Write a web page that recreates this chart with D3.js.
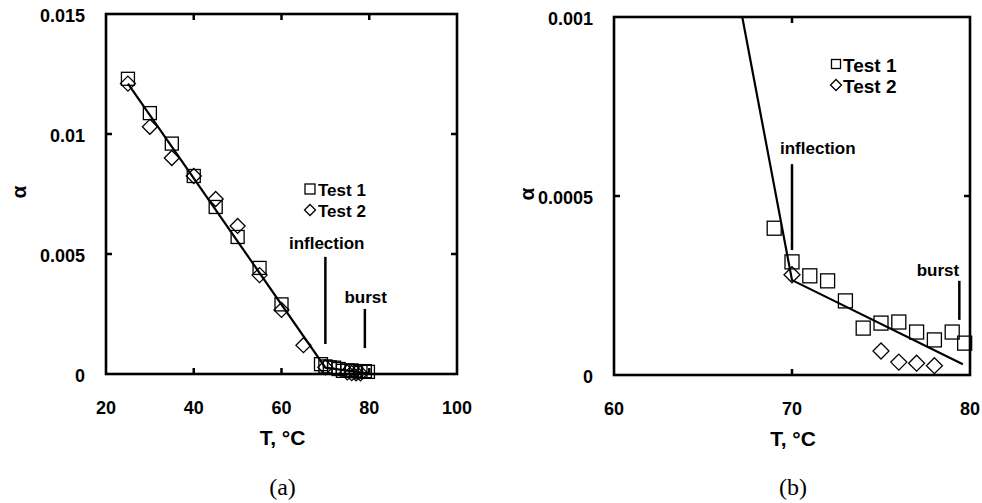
<!DOCTYPE html>
<html><head><meta charset="utf-8">
<script src="https://cdn.jsdelivr.net/npm/d3@7/dist/d3.min.js"></script>
<style>
body{margin:0;background:#fff;}
svg{display:block;}
text{font-family:"Liberation Sans",Arial,sans-serif;font-weight:bold;fill:#000;}
.cap{font-family:"Liberation Serif","Times New Roman",serif;font-weight:normal;}
</style></head>
<body>
<svg id="c" width="982" height="503"></svg>
<script>
// ---- data ----
const test1T = [25,30,35,40,45,50,55,60,69,70,71,72,73,74,75,76,77,78,79,79.7];
const test1Alpha = [0.0123,0.01087,0.0096,0.00825,0.00696,0.00571,0.00442,0.0029,0.00041,0.000316,0.000277,0.000263,0.000207,0.000131,0.000145,0.000148,0.00012,0.000098,0.00012,0.000089];
const test2T = [25,30,35,40,45,50,55,60,65,70,75,76,77,78];
const test2Alpha = [0.0121,0.0103,0.0090,0.00825,0.00729,0.00617,0.00412,0.00267,0.0012,0.00028,0.000067,0.000036,0.000033,0.000026];
const fitT = [25,70,79.6];
const fitAlpha = [0.0121,0.000265,0.00003];
const seriesNames = ["Test 1","Test 2"];
const xTicksA = [20,40,60,80,100];
const yTicksA = [0,0.005,0.01,0.015];
const yTickLabelsA = ["0","0.005","0.01","0.015"];
const xTicksB = [60,70,80];
const yTicksB = [0,0.0005,0.001];
const yTickLabelsB = ["0","0.0005","0.001"];
const annotA = [{label:"inflection",T:70,a0:0.00488,a1:0.00125,lt:70.3,la:0.00545},
                {label:"burst",T:79,a0:0.00271,a1:0.00108,lt:79.2,la:0.00321}];
const annotB = [{label:"inflection",T:70,a0:0.000589,a1:0.000349,lt:71.45,la:0.000634},
                {label:"burst",T:79.4,a0:0.000263,a1:0.000154,lt:78.2,la:0.000293}];

const svg = d3.select("#c");

function panel(cfg){
  const g = svg.append("g");
  const x = d3.scaleLinear().domain(cfg.xDomain).range([cfg.left,cfg.right]);
  const y = d3.scaleLinear().domain(cfg.yDomain).range([cfg.bottom,cfg.top]);
  const id = "clip"+cfg.name;
  svg.append("clipPath").attr("id",id).append("rect")
    .attr("x",cfg.left).attr("y",cfg.top).attr("width",cfg.right-cfg.left).attr("height",cfg.bottom-cfg.top);

  // inner ticks
  const tl = 6;
  cfg.xTicks.slice(1,-1).forEach(t=>{
    g.append("line").attr("x1",x(t)).attr("x2",x(t)).attr("y1",cfg.bottom).attr("y2",cfg.bottom-tl).attr("stroke","#000").attr("stroke-width",2.5);
    g.append("line").attr("x1",x(t)).attr("x2",x(t)).attr("y1",cfg.top).attr("y2",cfg.top+tl).attr("stroke","#000").attr("stroke-width",2.5);
  });
  cfg.yTicks.slice(1,-1).forEach(t=>{
    g.append("line").attr("x1",cfg.left).attr("x2",cfg.left+tl).attr("y1",y(t)).attr("y2",y(t)).attr("stroke","#000").attr("stroke-width",2.5);
    g.append("line").attr("x1",cfg.right).attr("x2",cfg.right-tl).attr("y1",y(t)).attr("y2",y(t)).attr("stroke","#000").attr("stroke-width",2.5);
  });
  // tick labels
  cfg.xTicks.forEach(t=>{
    g.append("text").attr("x",x(t)).attr("y",cfg.bottom+34).attr("dy","0.35em")
      .attr("text-anchor","middle").attr("font-size",18).text(t);
  });
  cfg.yTicks.forEach((t,i)=>{
    g.append("text").attr("x",cfg.left-21).attr("y",y(t)+2).attr("dy","0.35em")
      .attr("text-anchor","end").attr("font-size",18).text(cfg.yLabels[i]);
  });
  // titles
  g.append("text").attr("x",(cfg.left+cfg.right)/2+1).attr("y",cfg.bottom+64).attr("dy","0.35em")
    .attr("text-anchor","middle").attr("font-size",21).text("T, °C");
  g.append("text").attr("transform",`translate(${cfg.alphaX},${(cfg.top+cfg.bottom)/2-2}) rotate(-90)`)
    .attr("dy","0.35em").attr("text-anchor","middle").attr("font-size",21).text("α");
  g.append("text").attr("class","cap").attr("x",(cfg.left+cfg.right)/2+1).attr("y",487).attr("dy","0.35em")
    .attr("text-anchor","middle").attr("font-size",24).text(cfg.caption);

  // fit line
  const line = d3.line().x(d=>x(d[0])).y(d=>y(d[1]));
  g.append("path").datum(fitT.map((t,i)=>[t,fitAlpha[i]])).attr("d",line)
    .attr("clip-path",`url(#${id})`).attr("fill","none").attr("stroke","#000").attr("stroke-width",2.2);

  // markers
  const s = cfg.sq, h = cfg.dm;
  g.selectAll(null).data(test1T.map((t,i)=>[t,test1Alpha[i]])).enter().append("rect")
    .attr("x",d=>x(d[0])-s/2).attr("y",d=>y(d[1])-s/2).attr("width",s).attr("height",s)
    .attr("fill","none").attr("stroke","#000").attr("stroke-width",1.3);
  g.selectAll(null).data(test2T.map((t,i)=>[t,test2Alpha[i]])).enter().append("path")
    .attr("d",d=>{const cx=x(d[0]),cy=y(d[1]);return `M${cx},${cy-h}L${cx+h},${cy}L${cx},${cy+h}L${cx-h},${cy}Z`;})
    .attr("fill","none").attr("stroke","#000").attr("stroke-width",1.3);

  // annotations
  cfg.annot.forEach(a=>{
    g.append("line").attr("x1",x(a.T)).attr("x2",x(a.T)).attr("y1",y(a.a0)).attr("y2",y(a.a1))
      .attr("stroke","#000").attr("stroke-width",2.5);
    g.append("text").attr("x",x(a.lt)).attr("y",y(a.la)).attr("dy","0.35em")
      .attr("text-anchor","middle").attr("font-size",17).text(a.label);
  });

  // legend
  const lx = cfg.legX, ly = cfg.legY, ls = cfg.legSq, lh = cfg.legDm;
  g.append("rect").attr("x",lx-ls/2).attr("y",ly-ls/2).attr("width",ls).attr("height",ls)
    .attr("fill","none").attr("stroke","#000").attr("stroke-width",1.3);
  g.append("path").attr("d",`M${lx},${ly+21-lh}L${lx+lh},${ly+21}L${lx},${ly+21+lh}L${lx-lh},${ly+21}Z`)
    .attr("fill","none").attr("stroke","#000").attr("stroke-width",1.3);
  seriesNames.forEach((n,i)=>{
    g.append("text").attr("x",lx+cfg.legGap).attr("y",ly+21*i+1).attr("dy","0.35em").attr("font-size",cfg.legFont).text(n);
  });

  // frame
  g.append("rect").attr("x",cfg.left).attr("y",cfg.top).attr("width",cfg.right-cfg.left).attr("height",cfg.bottom-cfg.top)
    .attr("fill","none").attr("stroke","#000").attr("stroke-width",2.6);
}

panel({name:"a",xDomain:[20,100],yDomain:[0,0.015],left:106,right:457,top:14,bottom:374,
  xTicks:xTicksA,yTicks:yTicksA,yLabels:yTickLabelsA,alphaX:19,caption:"(a)",
  annot:annotA,sq:13,dm:7.5,legX:310,legY:189,legSq:10,legDm:5.5,legGap:8,legFont:17});
panel({name:"b",xDomain:[60,80],yDomain:[0,0.001],left:614,right:970,top:17,bottom:375,
  xTicks:xTicksB,yTicks:yTicksB,yLabels:yTickLabelsB,alphaX:527,caption:"(b)",
  annot:annotB,sq:14,dm:8,legX:836,legY:64,legSq:9,legDm:5.5,legGap:7,legFont:19});
</script>
</body></html>
